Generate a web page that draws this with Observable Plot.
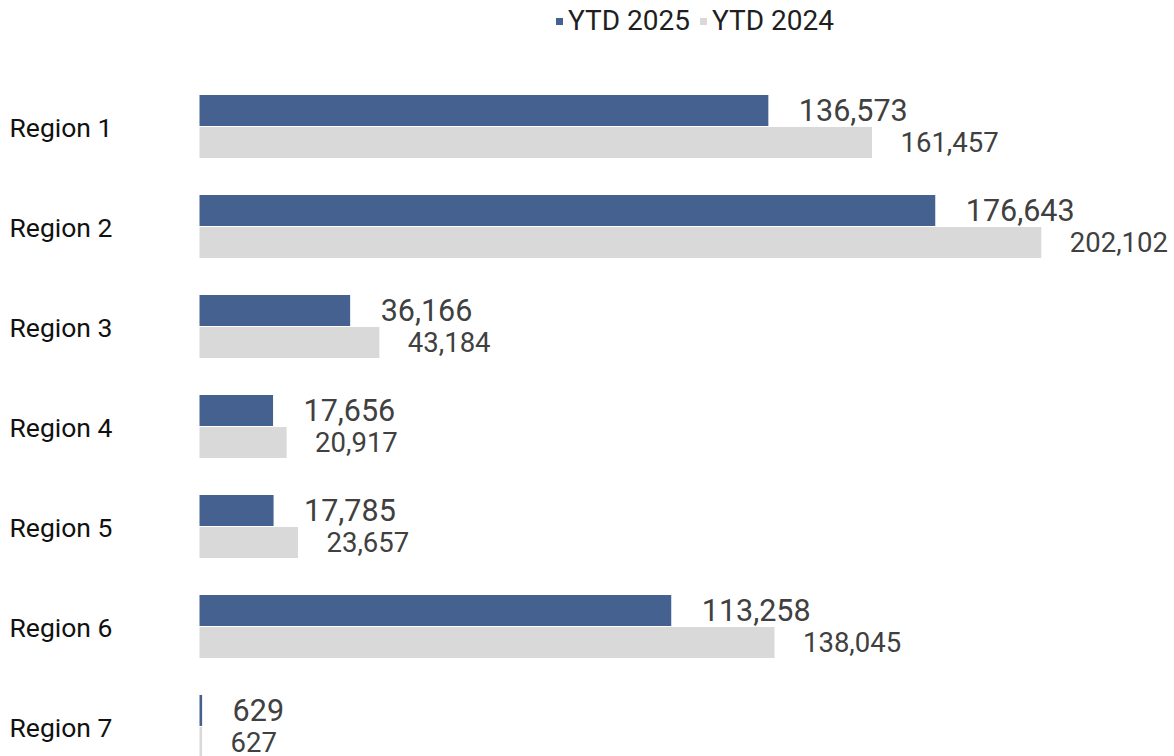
<!DOCTYPE html>
<html>
<head>
<meta charset="utf-8">
<script src="https://cdn.jsdelivr.net/npm/d3@7"></script>
<script src="https://cdn.jsdelivr.net/npm/@observablehq/plot@0.6"></script>
<style>
  html, body { margin: 0; padding: 0; background: #fff; overflow: hidden; }
  body { width: 1174px; height: 756px; position: relative; font-family: Roboto, sans-serif; }
  #legend { position: absolute; top: 0; left: 556px; height: 40px; display: flex; align-items: center; font-size: 28px; color: #1f1f1f; white-space: nowrap; }
  #legend .sw { display: inline-block; width: 7px; height: 7px; margin-right: 5px; position: relative; top: 1px; }
  #legend .item { display: inline-flex; align-items: center; margin-right: 10px; }
  #chart { position: absolute; top: 40px; left: 0; }
</style>
</head>
<body>
<div id="legend"></div>
<div id="chart"></div>
<script>
const regions = ["Region 1", "Region 2", "Region 3", "Region 4", "Region 5", "Region 6", "Region 7"];
const series = ["YTD 2025", "YTD 2024"];
const ytd2025 = [136573, 176643, 36166, 17656, 17785, 113258, 629];
const ytd2024 = [161457, 202102, 43184, 20917, 23657, 138045, 627];
const colors = ["#44618f", "#d9d9d9"];

const data = [];
regions.forEach((r, i) => {
  data.push({region: r, series: series[0], value: ytd2025[i]});
  data.push({region: r, series: series[1], value: ytd2024[i]});
});

const legend = document.getElementById("legend");
series.forEach((s, i) => {
  const item = document.createElement("span");
  item.className = "item";
  item.innerHTML = `<span class="sw" style="background:${colors[i]}"></span>${s}`;
  legend.appendChild(item);
});

const fmt = d3.format(",");
const chart = Plot.plot({
  width: 1174,
  height: 736,
  marginLeft: 199.5,
  marginRight: 16.5,
  marginTop: 36,
  marginBottom: 0,
  style: {fontFamily: "Roboto, sans-serif", background: "#fff"},
  x: {domain: [0, 230000], axis: null},
  y: {domain: series, axis: null, paddingInner: 0.046, paddingOuter: 0.5615},
  fy: {domain: regions, axis: null, padding: 0},
  color: {domain: series, range: colors},
  marks: [
    Plot.barX(data, {x: "value", y: "series", fy: "region", fill: "series"}),
    Plot.text(data.filter(d => d.series === series[0]), {
      x: "value", y: "series", fy: "region", text: d => fmt(d.value),
      textAnchor: "start", dx: 30, fontSize: 30.5, fill: "#404040"
    }),
    Plot.text(data.filter(d => d.series === series[1]), {
      x: "value", y: "series", fy: "region", text: d => fmt(d.value),
      textAnchor: "start", dx: 28, fontSize: 27.5, fill: "#404040"
    }),
    Plot.text(regions, {
      fy: d => d, text: d => d, frameAnchor: "left", dx: -190.5, dy: 2,
      textAnchor: "start", fontSize: 26.5, fill: "#111"
    })
  ]
});
document.getElementById("chart").appendChild(chart);
</script>
</body>
</html>
